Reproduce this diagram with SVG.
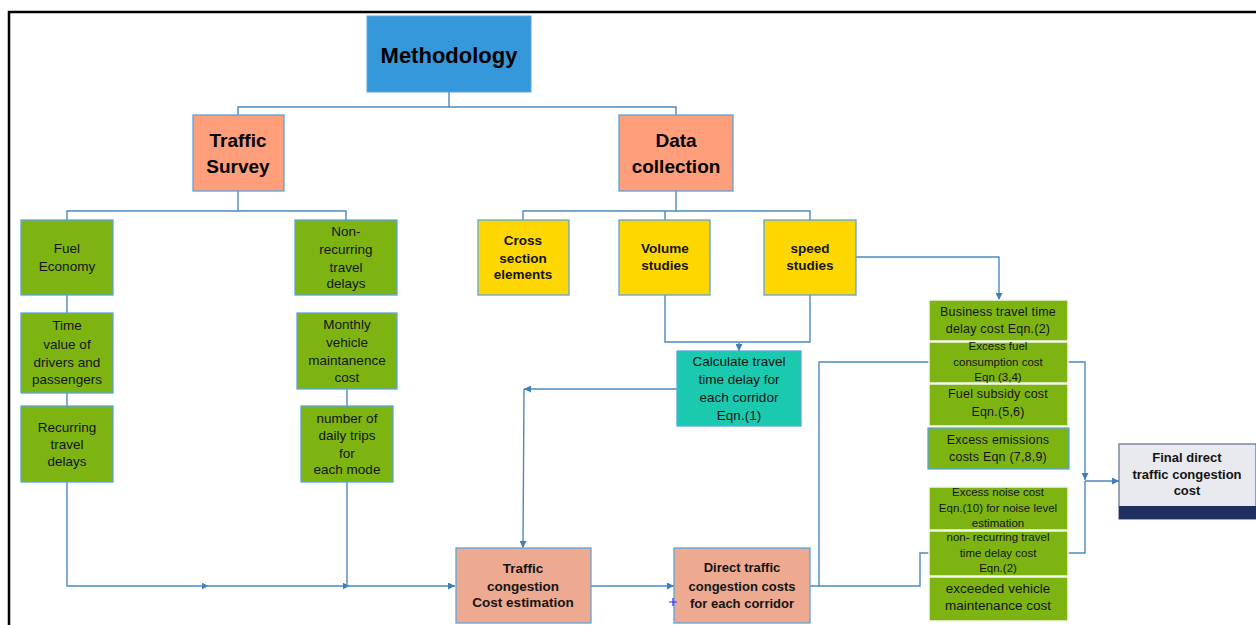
<svg xmlns="http://www.w3.org/2000/svg" width="1256" height="625" viewBox="0 0 1256 625">
<defs>
<marker id="ah" viewBox="0 0 10 10" refX="10" refY="5" markerWidth="7" markerHeight="7" markerUnits="userSpaceOnUse" orient="auto"><path d="M0,0 L10,5 L0,10 z" fill="#3F7FB5"/></marker>
<marker id="mid" viewBox="0 0 10 10" refX="5" refY="5" markerWidth="7" markerHeight="7" markerUnits="userSpaceOnUse" orient="auto"><path d="M0,0 L10,5 L0,10 z" fill="#3F7FB5"/></marker>
<style>
text{font-family:"Liberation Sans",Arial,sans-serif;fill:#141414;text-anchor:middle}
.b{font-weight:bold}
.h1{font-size:22px;font-weight:bold;fill:#000}
.h2{font-size:19px;font-weight:bold;fill:#000}
.g{fill:#7DB412;stroke:#5AA5DD;stroke-width:1.3}
.gs{fill:#7DB412;stroke:#F4F8EC;stroke-width:1.5}
.y{fill:#FFD700;stroke:#5AA5DD;stroke-width:1.3}
.s{fill:#FF9E7A;stroke:#5AA5DD;stroke-width:1.3}
.s2{fill:#EEA991;stroke:#5AA5DD;stroke-width:1.3}
.t14{font-size:13.5px}
.t12{font-size:12.5px;letter-spacing:0.2px}
.t11{font-size:11.5px}
.c{fill:none;stroke:#4A8AC2;stroke-width:1.4}
</style>
</defs>
<rect width="1256" height="625" fill="#fff"/>
<path d="M9,625 V12 H1256" fill="none" stroke="#000" stroke-width="2.5"/>

<g id="connectors" class="c">
<path d="M449,92 V107 M238,115 V107 H676 V115"/>
<path d="M238,191 V211 M67,220 V211 H346 V220"/>
<path d="M676,191 V211 M523,220 V211 H810 V220 M665,211 V220"/>
<path d="M67,295 V313 M67,393 V406 M347,389 V406"/>
<path d="M67,482 V586 H205" marker-end="url(#mid)"/>
<path d="M205,586 H346" marker-end="url(#mid)"/>
<path d="M346,586 H455" marker-end="url(#ah)"/>
<path d="M347,482 V586"/>
<path d="M665,295 V342 H810 V295"/>
<path d="M739,342 V351" marker-end="url(#ah)"/>
<path d="M677,389 H524" marker-end="url(#ah)"/>
<path d="M524,389 L523,548" marker-end="url(#ah)"/>
<path d="M591,586 H674" marker-end="url(#ah)"/>
<path d="M810,586 H819 V362 H929"/>
<path d="M819,586 H920 V553 H929"/>
<path d="M856,257 H999 V300" marker-end="url(#ah)"/>
<path d="M1068,362 H1085 V480" marker-end="url(#ah)"/>
<path d="M1068,553 H1085 V481"/>
<path d="M1085,481 H1119" marker-end="url(#ah)"/>
</g>

<g id="methodology"><rect x="367" y="16" width="164" height="76" fill="#3598DB" stroke="#5AA5DD"/><text x="449" y="63" class="h1">Methodology</text></g>
<g id="traffic-survey"><rect x="193" y="115" width="91" height="76" class="s"/><text x="238" y="147" class="h2">Traffic</text><text x="238" y="173" class="h2">Survey</text></g>
<g id="data-collection"><rect x="619" y="115" width="114" height="76" class="s"/><text x="676" y="147" class="h2">Data</text><text x="676" y="173" class="h2">collection</text></g>

<g id="fuel-economy"><rect x="21" y="220" width="92" height="75" class="g"/><text class="t14" x="67" y="253">Fuel</text><text class="t14" x="67" y="271">Economy</text></g>
<g id="time-value"><rect x="21" y="313" width="92" height="80" class="g"/><text class="t14" x="67" y="330">Time</text><text class="t14" x="67" y="349">value of</text><text class="t14" x="67" y="367">drivers and</text><text class="t14" x="67" y="384">passengers</text></g>
<g id="recurring"><rect x="21" y="406" width="92" height="76" class="g"/><text class="t14" x="67" y="432">Recurring</text><text class="t14" x="67" y="449">travel</text><text class="t14" x="67" y="466">delays</text></g>
<g id="non-recurring"><rect x="295" y="220" width="102" height="75" class="g"/><text class="t14" x="346" y="236">Non-</text><text class="t14" x="346" y="254">recurring</text><text class="t14" x="346" y="272">travel</text><text class="t14" x="346" y="288">delays</text></g>
<g id="monthly"><rect x="297" y="313" width="100" height="76" class="g"/><text class="t14" x="347" y="329">Monthly</text><text class="t14" x="347" y="347">vehicle</text><text class="t14" x="347" y="365">maintanence</text><text class="t14" x="347" y="382">cost</text></g>
<g id="daily-trips"><rect x="301" y="406" width="92" height="76" class="g"/><text class="t14" x="347" y="423">number of</text><text class="t14" x="347" y="440">daily trips</text><text class="t14" x="347" y="458">for</text><text class="t14" x="347" y="474">each mode</text></g>

<g id="cross-section"><rect x="478" y="220" width="91" height="75" class="y"/><text class="t14 b" x="523" y="245">Cross</text><text class="t14 b" x="523" y="263">section</text><text class="t14 b" x="523" y="279">elements</text></g>
<g id="volume"><rect x="619" y="220" width="91" height="75" class="y"/><text class="t14 b" x="665" y="253">Volume</text><text class="t14 b" x="665" y="270">studies</text></g>
<g id="speed"><rect x="764" y="220" width="92" height="75" class="y"/><text class="t14 b" x="810" y="253">speed</text><text class="t14 b" x="810" y="270">studies</text></g>

<g id="calculate"><rect x="677" y="351" width="124" height="75" fill="#1BC9AF" stroke="#5AA5DD" stroke-width="1.3"/><text class="t14" x="739" y="366">Calculate travel</text><text class="t14" x="739" y="384">time delay for</text><text class="t14" x="739" y="402">each corridor</text><text class="t14" x="739" y="420">Eqn.(1)</text></g>

<g id="traffic-congestion"><rect x="456" y="548" width="135" height="75" class="s2"/><text class="t14 b" x="523" y="573">Traffic</text><text class="t14 b" x="523" y="591">congestion</text><text class="t14 b" x="523" y="607">Cost estimation</text></g>
<g id="direct-costs"><rect x="674" y="548" width="136" height="75" class="s2"/><text class="b" style="font-size:13px" x="742" y="572">Direct traffic</text><text class="b" style="font-size:13px" x="742" y="591">congestion costs</text><text class="b" style="font-size:13px" x="742" y="608">for each corridor</text><path d="M669,602 H677 M673,598 V606" stroke="#2B2BFF" stroke-width="1.2"/></g>

<g id="business"><rect x="929" y="300" width="139" height="41" class="gs"/><text class="t12" x="998" y="316">Business travel time</text><text class="t12" x="998" y="333">delay cost  Eqn.(2)</text></g>
<g id="excess-fuel"><rect x="929" y="342" width="139" height="41" class="gs"/><text class="t11" x="998" y="350">Excess fuel</text><text class="t11" x="998" y="366">consumption cost</text><text class="t11" x="998" y="381">Eqn (3,4)</text></g>
<g id="fuel-subsidy"><rect x="929" y="384" width="139" height="42" class="gs"/><text class="t12" x="998" y="398">Fuel subsidy cost</text><text class="t12" x="998" y="416">Eqn.(5,6)</text></g>
<g id="emissions"><rect x="928" y="428" width="141" height="41" class="g"/><text class="t12" x="998" y="444">Excess emissions</text><text class="t12" x="998" y="461">costs Eqn (7,8,9)</text></g>
<g id="noise"><rect x="929" y="487" width="139" height="43" class="gs"/><text class="t11" x="998" y="496">Excess noise cost</text><text class="t11" x="998" y="512">Eqn.(10) for noise level</text><text class="t11" x="998" y="527">estimation</text></g>
<g id="nonrec-cost"><rect x="929" y="531" width="139" height="45" class="gs"/><text class="t11" x="998" y="541">non- recurring travel</text><text class="t11" x="998" y="557">time delay cost</text><text class="t11" x="998" y="572">Eqn.(2)</text></g>
<g id="maintenance"><rect x="929" y="577" width="139" height="44" class="gs"/><text class="t14" x="998" y="593">exceeded vehicle</text><text class="t14" x="998" y="610">maintenance cost</text></g>

<g id="final"><rect x="1119" y="444" width="137" height="75" fill="#E8EAF0" stroke="#6A7A9A" stroke-width="1.3"/><rect x="1119" y="506" width="137" height="13" fill="#1F3060"/><text class="b" style="font-size:13px" x="1187" y="462">Final direct</text><text class="b" style="font-size:13px" x="1187" y="479">traffic congestion</text><text class="b" style="font-size:13px" x="1187" y="495">cost</text></g>
</svg>
